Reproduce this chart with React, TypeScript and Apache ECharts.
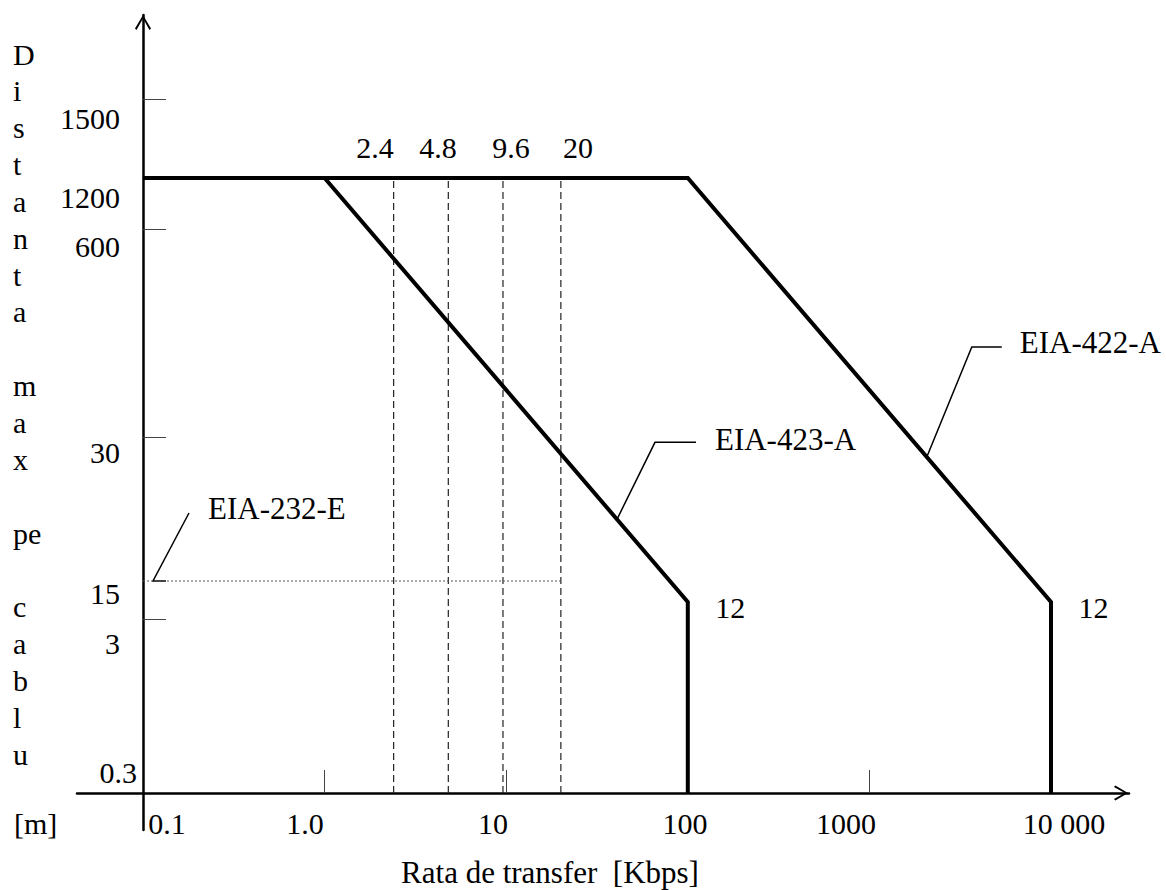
import React, { useEffect, useRef } from 'react';
import * as echarts from 'echarts';

// ---------- data ----------
const rateTickValues = [0.1, 1, 10, 100, 1000, 10000];
const rateTickLabels = ['0.1', '1.0', '10', '100', '1000', '10 000'];
const rateTickMarks = [1, 10, 100, 1000, 10000];

const distTickValues = [0.3, 3, 15, 30, 600, 1200, 1500];
const distTickLabels = ['0.3', '3', '15', '30', '600', '1200', '1500'];
const distTickMarks = [3, 30, 600, 1500];

// the distance axis of this drawing is schematic (not to scale):
// anchor distances [m] and their heights on the axis
const distScaleValues = [0.3, 3, 12, 15, 30, 600, 1200, 1500];
const distScaleHeights = [0, 174, 191, 212, 356, 564, 615, 694];

const seriesNames = ['EIA-422-A', 'EIA-423-A', 'EIA-232-E'];
const eia422Rate = [0.1, 100, 10000, 10000];
const eia422Dist = [1200, 1200, 12, 0.3];
const eia423Rate = [1, 100, 100];
const eia423Dist = [1200, 12, 0.3];
const eia232Rate = [0.1, 20];
const eia232Dist = [15, 15];

const markedRates = [2.4, 4.8, 9.6, 20];
const markedRateLabels = ['2.4', '4.8', '9.6', '20'];
const markedRateSpan = [0.3, 1200];
const cornerLabel = '12';

const yTitleLines = ['D', 'i', 's', 't', 'a', 'n', 't', 'a', '', 'm', 'a', 'x', '', 'pe', '', 'c', 'a', 'b', 'l', 'u'];
const yUnit = '[m]';
const xTitle = 'Rata de transfer  [Kbps]';

// ---------- styles / layout ----------
const FONT = "'Liberation Serif', 'Times New Roman', serif";
// horizontal nudges of x tick labels (px, + = right)
const xLabelNudge = [24, -19.6, -13.2, -2.8, -23.4, 13];
// nudges of y tick labels: [dx (+ = left), dy (+ = down)]
const yLabelNudge = [
  [0, -21],
  [17, 24],
  [17, 12],
  [17, 15],
  [17, 17],
  [17, 19],
  [17, 19],
];
const rateLabelNudge = [-18.7, -10.3, 8, 17.1];
const ARROW = 'path://M80,0 L160,135 L145,150 L80,35 L15,150 L0,135 Z';

// ---------- scales ----------
const rateToU = (r: number) => Math.log10(r / 0.1);
const distToH = (d: number) => {
  const lv = Math.log10(d);
  const ls = distScaleValues.map((v) => Math.log10(v));
  const hs = distScaleHeights;
  let i = 0;
  while (i < ls.length - 2 && lv > ls[i + 1]) i++;
  const t = (lv - ls[i]) / (ls[i + 1] - ls[i]);
  return hs[i] + t * (hs[i + 1] - hs[i]);
};

export default function App() {
  const ref = useRef<HTMLDivElement>(null);

  useEffect(() => {
    if (!ref.current) return;
    const chart = echarts.init(ref.current, null, { renderer: 'svg' });

    const xRich: Record<string, any> = {};
    xLabelNudge.forEach((s, i) => {
      xRich['x' + i] = {
        fontSize: 30,
        fontFamily: FONT,
        color: '#000',
        padding: s > 0 ? [0, 0, 0, 2 * s] : [0, -2 * s, 0, 0],
      };
    });
    const yRich: Record<string, any> = {};
    yLabelNudge.forEach(([dx, dy], i) => {
      yRich['y' + i] = {
        fontSize: 30,
        fontFamily: FONT,
        color: '#000',
        padding: [dy > 0 ? 2 * dy : 0, dx, dy < 0 ? -2 * dy : 0, 0],
      };
    });

    const thick = { color: '#000', width: 4, cap: 'butt', join: 'miter' };
    const cornerLbl = {
      show: true,
      formatter: cornerLabel,
      position: 'right',
      distance: 27,
      offset: [0, 5],
      fontSize: 30,
      fontFamily: FONT,
      color: '#000',
    };

    const series: any[] = [
      {
        type: 'line',
        name: seriesNames[0],
        symbol: 'circle',
        symbolSize: 1,
        itemStyle: { color: '#000' },
        lineStyle: thick,
        z: 5,
        silent: true,
        label: { show: false },
        data: eia422Rate.map((r, i) => ({
          value: [rateToU(r), distToH(eia422Dist[i])],
          label: i === 2 ? cornerLbl : { show: false },
        })),
      },
      {
        type: 'line',
        name: seriesNames[1],
        symbol: 'circle',
        symbolSize: 1,
        itemStyle: { color: '#000' },
        lineStyle: thick,
        z: 5,
        silent: true,
        label: { show: false },
        data: eia423Rate.map((r, i) => ({
          value: [rateToU(r), distToH(eia423Dist[i])],
          label: i === 1 ? cornerLbl : { show: false },
        })),
      },
      {
        type: 'line',
        name: seriesNames[2],
        symbol: 'none',
        lineStyle: { color: '#555', width: 1.2, type: [2, 2] },
        z: 3,
        silent: true,
        data: eia232Rate.map((r, i) => [rateToU(r), distToH(eia232Dist[i])]),
      },
      ...markedRates.map((r, k) => ({
        type: 'line',
        name: markedRateLabels[k],
        symbol: 'circle',
        symbolSize: 1,
        itemStyle: { color: '#222' },
        lineStyle: { color: '#222', width: 1.2, type: [7, 4] },
        z: 2,
        silent: true,
        label: { show: false },
        data: markedRateSpan.map((d, i) => ({
          value: [rateToU(r), distToH(d)],
          label:
            i === 1
              ? {
                  show: true,
                  formatter: markedRateLabels[k],
                  position: 'top',
                  distance: 15,
                  offset: [rateLabelNudge[k], 0],
                  fontSize: 30,
                  fontFamily: FONT,
                  color: '#000',
                }
              : { show: false },
        })),
      })),
    ];

    chart.setOption({
      animation: false,
      textStyle: { fontFamily: FONT },
      grid: { left: 77, right: 37, top: 15, bottom: 60, outerBoundsMode: 'none', containLabel: false },
      xAxis: {
        type: 'value',
        min: -0.3634,
        max: 5.4295,
        name: xTitle,
        nameLocation: 'middle',
        nameGap: 27,
        nameMoveOverlap: false,
        nameTextStyle: { fontSize: 31, fontFamily: FONT, color: '#000', padding: [0, 106, 0, 0] },
        axisLine: {
          show: true,
          onZero: true,
          lineStyle: { color: '#000', width: 2.5 },
          symbol: ['none', ARROW],
          symbolSize: [15, 16],
          symbolOffset: [0, -8],
        },
        axisTick: {
          show: true,
          inside: true,
          length: 23,
          customValues: rateTickMarks.map(rateToU),
          lineStyle: { color: '#444', width: 1 },
        },
        axisLabel: {
          show: true,
          margin: -22,
          customValues: rateTickValues.map(rateToU),
          fontSize: 30,
          fontFamily: FONT,
          color: '#000',
          formatter: (val: number) => {
            const i = rateTickValues.findIndex((r) => Math.abs(rateToU(r) - val) < 1e-4);
            return i < 0 ? '' : `{x${i}|${rateTickLabels[i]}}`;
          },
          rich: xRich,
        },
        splitLine: { show: false },
      },
      yAxis: {
        type: 'value',
        min: -37,
        max: 778,
        // trailing empty line lifts the centred title block to its place
        name: yTitleLines.join('\n') + '\n',
        nameLocation: 'middle',
        nameRotate: 0,
        nameGap: 64,
        nameMoveOverlap: false,
        nameTextStyle: {
          fontSize: 30,
          fontFamily: FONT,
          color: '#000',
          lineHeight: 36.84,
          align: 'left',
          verticalAlign: 'middle',
        },
        axisLine: {
          show: true,
          onZero: true,
          lineStyle: { color: '#000', width: 2.5 },
          symbol: ['none', ARROW],
          symbolSize: [16, 15],
          symbolOffset: [0, -7.5],
        },
        axisTick: {
          show: true,
          inside: true,
          length: 23,
          customValues: distTickMarks.map(distToH),
          lineStyle: { color: '#444', width: 1 },
        },
        axisLabel: {
          show: true,
          margin: -60,
          customValues: distTickValues.map(distToH),
          fontSize: 30,
          fontFamily: FONT,
          color: '#000',
          formatter: (val: number) => {
            const i = distTickValues.findIndex((d) => Math.abs(distToH(d) - val) < 1e-4);
            return i < 0 ? '' : `{y${i}|${distTickLabels[i]}}`;
          },
          rich: yRich,
        },
        splitLine: { show: false },
      },
      series,
    });

    // annotation leaders, anchored on the series through the axes
    const px = (r: number, d: number) =>
      chart.convertToPixel({ gridIndex: 0 }, [rateToU(r), distToH(d)]) as number[];
    const lerp = (a: number[], b: number[], t: number) => [a[0] + (b[0] - a[0]) * t, a[1] + (b[1] - a[1]) * t];

    const a422 = lerp(px(eia422Rate[1], eia422Dist[1]), px(eia422Rate[2], eia422Dist[2]), 0.658);
    const a423 = lerp(px(eia423Rate[0], eia423Dist[0]), px(eia423Rate[1], eia423Dist[1]), 0.805);
    const a232 = px(eia232Rate[0], eia232Dist[0]);
    const zero = px(rateTickValues[0], distTickValues[0]);

    const leader = (a: number[], pts: number[][]) => ({
      type: 'polyline',
      silent: true,
      shape: { points: pts.map(([dx, dy]) => [a[0] + dx, a[1] + dy]) },
      style: { stroke: '#000', lineWidth: 1.5, fill: null },
    });
    const label = (a: number[], dx: number, dy: number, text: string, size = 31) => ({
      type: 'text',
      silent: true,
      x: a[0] + dx,
      y: a[1] + dy,
      style: { text, fontSize: size, fontFamily: FONT, fill: '#000', align: 'left', verticalAlign: 'middle' },
    });

    chart.setOption({
      graphic: [
        leader(a422, [[75, -110], [45, -110], [0, 0]]),
        label(a422, 93, -114, seriesNames[0]),
        leader(a423, [[79, -77], [38, -77], [0, 0]]),
        label(a423, 98, -80, seriesNames[1]),
        leader(a232, [[46, -68], [10, 0], [23, 0]]),
        label(a232, 65, -73, seriesNames[2]),
        label(zero, -129, 30, yUnit, 30),
      ],
    });

    return () => chart.dispose();
  }, []);

  return (
    <div
      ref={ref}
      style={{ position: 'absolute', left: 0, top: 0, width: 1166, height: 890, background: '#fff' }}
    />
  );
}
